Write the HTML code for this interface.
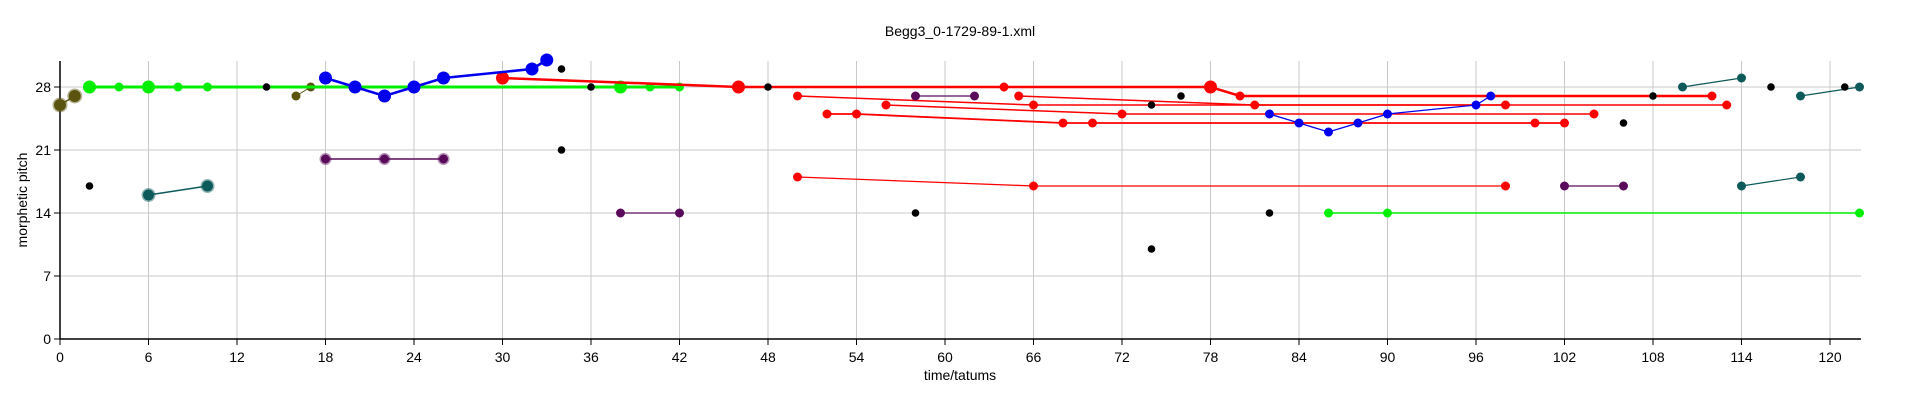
<!DOCTYPE html>
<html><head><meta charset="utf-8"><style>
html,body{margin:0;padding:0;background:#fff;}
svg{display:block;font-family:"Liberation Sans",Arial,sans-serif;}
</style></head><body>
<svg id="chart" width="1920" height="401"></svg>
<script>
const xTicks=[0,6,12,18,24,30,36,42,48,54,60,66,72,78,84,90,96,102,108,114,120];
const yTicks=[0,7,14,21,28];
// each series: points [x,y], color, large dots?, thick line?
const olive1X=[0,1], olive1Y=[26,27];
const olive2X=[16,17], olive2Y=[27,28];
const greenX=[2,4,6,8,10,38,40,42], greenY=[28,28,28,28,28,28,28,28];
const greenBig=[1,0,1,0,0,1,0,0];
const blueX=[18,20,22,24,26,32,33], blueY=[29,28,27,28,29,30,31];
const purpleX=[18,22,26], purpleY=[20,20,20];
const tealX=[6,10], tealY=[16,17];
const redMainX=[30,46,64,78,80,112], redMainY=[29,28,28,28,27,27];
const redAX=[50,66,113], redAY=[27,26,26];
const redBX=[65,81,98], redBY=[27,26,26];
const redCX=[56,72,104], redCY=[26,25,25];
const redDX=[52,54,68,70,100,102], redDY=[25,25,24,24,24,24];
const redEX=[50,66,98], redEY=[18,17,17];
const purp2X=[58,62], purp2Y=[27,27];
const purp3X=[102,106], purp3Y=[17,17];
const purp4X=[38,42], purp4Y=[14,14];
const blue2X=[82,84,86,88,90,96,97], blue2Y=[25,24,23,24,25,26,27];
const green2X=[86,90,122], green2Y=[14,14,14];
const teal2X=[110,114], teal2Y=[28,29];
const teal3X=[114,118], teal3Y=[17,18];
const teal4X=[118,122], teal4Y=[27,28];
const blackX=[2,14,34,34,36,48,58,74,74,76,82,106,108,116,121];
const blackY=[17,28,30,21,28,28,14,10,26,27,14,24,27,28,28];

const NS="http://www.w3.org/2000/svg";
const svg=document.getElementById('chart');
const X0=60,XS=14.75,Y0=339,YS=9;
const sx=v=>X0+v*XS, sy=v=>Y0-v*YS;
function mk(t,a,p){const e=document.createElementNS(NS,t);for(const k in a)e.setAttribute(k,a[k]);(p||svg).appendChild(e);return e;}
const grid=mk('g',{});


xTicks.forEach(t=>{mk('line',{x1:sx(t),x2:sx(t),y1:61,y2:Y0,stroke:'#c8c8c8','stroke-width':1},grid);
 mk('line',{x1:sx(t),x2:sx(t),y1:Y0,y2:Y0+6,stroke:'#000'});
 const l=mk('text',{x:sx(t),y:Y0+23,'text-anchor':'middle','font-size':14},svg);l.textContent=t;
 
 });
yTicks.forEach(t=>{mk('line',{x1:X0,x2:1861,y1:sy(t),y2:sy(t),stroke:'#c8c8c8','stroke-width':1},grid);
 mk('line',{x1:X0-6,x2:X0,y1:sy(t),y2:sy(t),stroke:'#000'});
 const l=mk('text',{x:X0-9,y:sy(t)+5,'text-anchor':'end','font-size':14},svg);l.textContent=t;
 
 });
mk('line',{x1:X0,x2:1861,y1:Y0,y2:Y0,stroke:'#000','stroke-width':1.5});
mk('line',{x1:X0,x2:X0,y1:61,y2:Y0,stroke:'#000','stroke-width':1.5});
const title=mk('text',{x:960,y:36,'text-anchor':'middle','font-size':14});title.textContent='Begg3_0-1729-89-1.xml';


const xt=mk('text',{x:960,y:380,'text-anchor':'middle','font-size':14});xt.textContent='time/tatums';


const yt=mk('text',{x:0,y:0,'text-anchor':'middle','font-size':14,transform:'translate(27,200) rotate(-90)'});yt.textContent='morphetic pitch';



function series(name,xs,ys,color,r,lw,halo,big){
 const g=mk('g',{});
 
 
 if(xs.length>1){
  const pts=xs.map((x,i)=>sx(x)+','+sy(ys[i])).join(' ');
  mk('polyline',{points:pts,fill:'none',stroke:color,'stroke-width':lw},g);
 }
 xs.forEach((x,i)=>{
  const rr=big?(big[i]?6.5:4.5):r;
  const c=mk('circle',{cx:sx(x),cy:sy(ys[i]),r:rr,fill:color},g);
  if(halo){c.setAttribute('stroke',color);c.setAttribute('stroke-opacity','0.45');c.setAttribute('stroke-width','3');}
  
  
 });
}
series('olive-series-1',olive1X,olive1Y,'#5a5410',6,1.5,true);
series('olive-series-2',olive2X,olive2Y,'#5a5410',4.5,1,false);
series('green-series',greenX,greenY,'#00ee00',5,3,false,greenBig);
series('red-series-a',redAX,redAY,'#ff0000',4.5,1.5,false);
series('red-series-b',redBX,redBY,'#ff0000',4.5,1.5,false);
series('red-series-c',redCX,redCY,'#ff0000',4.5,1.5,false);
series('red-series-d',redDX,redDY,'#ff0000',4.5,1.8,false);
series('red-series-e',redEX,redEY,'#ff0000',4.5,1.3,false);
series('red-main-series',redMainX,redMainY,'#ff0000',4.5,2.5,false,[1,1,0,1,0,0]);
series('blue-series',blueX,blueY,'#0000ee',6.5,2.5,false);
series('purple-series',purpleX,purpleY,'#5a0a5a',4.5,1.5,true);
series('teal-series',tealX,tealY,'#0e5a5a',5.5,1.5,true);
series('purple-series-2',purp2X,purp2Y,'#5a0a5a',4.5,1.2,false);
series('purple-series-3',purp3X,purp3Y,'#5a0a5a',4.5,1.2,false);
series('purple-series-4',purp4X,purp4Y,'#5a0a5a',4.5,1.2,false);
series('blue-series-2',blue2X,blue2Y,'#0000ee',4.5,1.3,false);
series('green-series-2',green2X,green2Y,'#00ee00',4.5,1.5,false);
series('teal-series-2',teal2X,teal2Y,'#0e5a5a',4.5,1.2,false);
series('teal-series-3',teal3X,teal3Y,'#0e5a5a',4.5,1.2,false);
series('teal-series-4',teal4X,teal4Y,'#0e5a5a',4.5,1.2,false);
blackX.forEach((x,i)=>{
 const c=mk('circle',{cx:sx(x),cy:sy(blackY[i]),r:3.8,fill:'#000'});
 
 
});
</script>
</body></html>
